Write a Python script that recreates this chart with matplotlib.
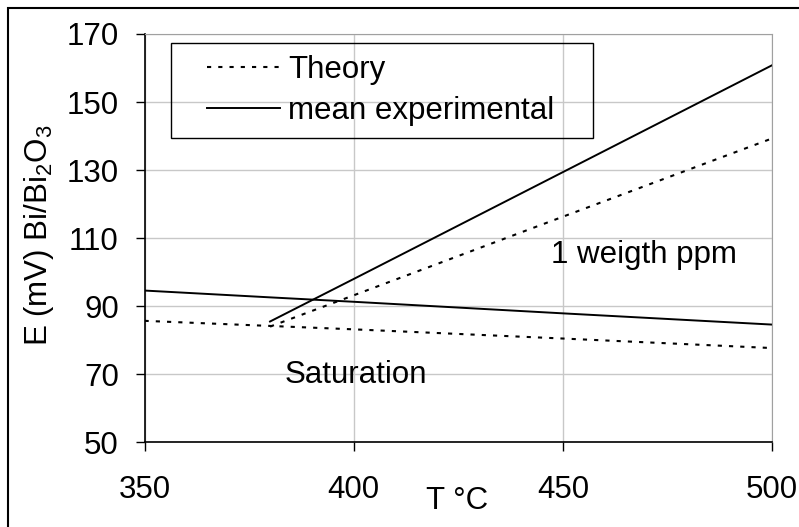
import matplotlib
matplotlib.use("Agg")
import matplotlib.pyplot as plt
from matplotlib.patches import Rectangle

plt.rcParams['font.family'] = ['Liberation Sans', 'DejaVu Sans']

# Données
t_sat = [350, 380, 400, 450, 500]
theory_sat = [85.7, 84.2, 83.2, 80.5, 77.7]
exp_sat = [94.6, 92.6, 91.3, 87.9, 84.6]

t_ppm = [380, 400, 450, 500]
theory_ppm = [84.0, 93.2, 116.3, 139.3]
exp_ppm = [85.5, 98.0, 129.4, 160.8]

x_ticks = [350, 400, 450, 500]
y_ticks = [50, 70, 90, 110, 130, 150, 170]

W, H = 799, 527
fig = plt.figure(figsize=(W / 100, H / 100), dpi=100)
ax = fig.add_axes([0.1809, 0.1607, 0.9662 - 0.1809, 0.9355 - 0.1607])

fs = 22.5
dots = (0, (2.0, 3.4))
ax.plot(t_sat, theory_sat, color='black', lw=1.5, linestyle=dots, label='Theory')
ax.plot(t_sat, exp_sat, color='black', lw=1.4, label='mean experimental')
ax.plot(t_ppm, theory_ppm, color='black', lw=1.5, linestyle=dots)
ax.plot(t_ppm, exp_ppm, color='black', lw=1.4)

ax.set_xlim(350, 500)
ax.set_ylim(50, 170)
ax.set_xticks(x_ticks)
ax.set_yticks(y_ticks)
ax.tick_params(labelsize=fs, length=6.5, width=1, color='black', direction='out')
ax.tick_params(axis='y', pad=12)
ax.tick_params(axis='x', pad=17)
ax.grid(True, color='#c8c8c8', lw=1)
ax.set_axisbelow(True)
for s in ['top', 'right']:
    ax.spines[s].set_color('#a0a0a0')
for s in ['left', 'bottom']:
    ax.spines[s].set_linewidth(1.2)

ax.text(447.2, 105, '1 weigth ppm', fontsize=fs, va='center', ha='left')
ax.text(383.6, 69.7, 'Saturation', fontsize=fs, va='center', ha='left')

fig.text(457 / W, 1 - 501 / H, 'T \u00b0C', fontsize=fs, ha='center', va='center')
fig.text(39 / W, 1 - 235 / H, r'E (mV) Bi/Bi$\mathregular{_2}$O$\mathregular{_3}$', fontsize=fs,
         rotation=90, ha='center', va='center')

# légende sans cadre + cadre dessiné à part
leg = ax.legend(loc='upper left', bbox_to_anchor=(207 / W, 1 - 55 / H),
                bbox_transform=fig.transFigure, fontsize=fs, frameon=False,
                handlelength=2.35, handletextpad=0.25, borderpad=0.0, labelspacing=0.36,
                borderaxespad=0)
fig.patches.append(Rectangle((171 / W, 1 - 138 / H), (593 - 171) / W, (138 - 43) / H,
                             transform=fig.transFigure, fill=False, edgecolor='black',
                             lw=1, zorder=5))

fig.patches.append(Rectangle((8 / W, -0.05), 1.0, 1 - 8 / H + 0.05, transform=fig.transFigure,
                             fill=False, edgecolor='black', lw=1.5))

fig.savefig('out.png', dpi=100)
